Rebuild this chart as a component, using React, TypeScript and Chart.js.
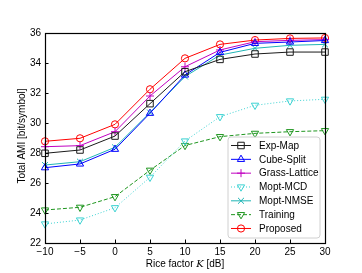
import React, { useEffect, useRef } from "react";
import { Chart, registerables } from "chart.js";

Chart.register(...registerables);

const riceFactor = [-10, -5, 0, 5, 10, 15, 20, 25, 30];
const expMap = [27.98, 28.2, 29.13, 31.29, 33.42, 34.24, 34.6, 34.73, 34.73];
const cubeSplit = [27.02, 27.27, 28.25, 30.65, 33.2, 34.71, 35.31, 35.4, 35.5];
const grassLattice = [28.42, 28.49, 29.42, 31.8, 33.75, 34.87, 35.42, 35.51, 35.56];
const moptMCD = [23.27, 23.53, 24.35, 26.38, 28.8, 30.42, 31.18, 31.47, 31.58];
const moptNMSE = [27.2, 27.42, 28.38, 30.7, 33.1, 34.53, 34.98, 35.18, 35.24];
const training = [24.2, 24.38, 25.09, 26.85, 28.5, 29.09, 29.31, 29.42, 29.49];
const proposed = [28.78, 28.98, 29.91, 32.25, 34.31, 35.24, 35.53, 35.64, 35.67];

const yTicks = [22, 24, 26, 28, 30, 32, 34, 36];
const xTicks = [-10, -5, 0, 5, 10, 15, 20, 25, 30];

const FONT = "'Liberation Sans', Arial, sans-serif";

function drawMarker(ctx: CanvasRenderingContext2D, style: string, rot: number, r: number, x: number, y: number) {
  ctx.beginPath();
  const rad = (rot * Math.PI) / 180;
  if (style === "circle") {
    ctx.arc(x, y, r, 0, Math.PI * 2);
    ctx.closePath();
  } else if (style === "rect") {
    const h = r * Math.SQRT1_2;
    ctx.rect(x - h, y - h, 2 * h, 2 * h);
  } else if (style === "triangle") {
    let a = rad;
    ctx.moveTo(x + Math.sin(a) * r, y - Math.cos(a) * r);
    a += (2 * Math.PI) / 3;
    ctx.lineTo(x + Math.sin(a) * r, y - Math.cos(a) * r);
    a += (2 * Math.PI) / 3;
    ctx.lineTo(x + Math.sin(a) * r, y - Math.cos(a) * r);
    ctx.closePath();
  } else if (style === "cross") {
    ctx.moveTo(x, y - r);
    ctx.lineTo(x, y + r);
    ctx.moveTo(x - r, y);
    ctx.lineTo(x + r, y);
  } else if (style === "crossRot") {
    const h = r * Math.SQRT1_2;
    ctx.moveTo(x - h, y - h);
    ctx.lineTo(x + h, y + h);
    ctx.moveTo(x - h, y + h);
    ctx.lineTo(x + h, y - h);
  }
  ctx.stroke();
}

const framePlugin = {
  id: "frame",
  afterDraw(chart: any) {
    const ctx = chart.ctx as CanvasRenderingContext2D;
    const { left, right, top, bottom } = chart.chartArea;
    const xs = chart.scales.x;
    const ys = chart.scales.y;
    ctx.save();
    ctx.strokeStyle = "#000";
    ctx.lineWidth = 1;
    ctx.beginPath();
    yTicks.forEach((v) => {
      const p = Math.round(ys.getPixelForValue(v)) + 0.5;
      ctx.moveTo(left, p);
      ctx.lineTo(left + 3.5, p);
    });
    xTicks.forEach((v) => {
      const p = Math.round(xs.getPixelForValue(v)) + 0.5;
      ctx.moveTo(p, bottom);
      ctx.lineTo(p, bottom - 3.5);
    });
    ctx.stroke();
    ctx.lineWidth = 1.2;
    ctx.strokeRect(Math.round(left) + 0.5, Math.round(top) + 0.5, Math.round(right - left), Math.round(bottom - top));

    ctx.fillStyle = "#000";
    ctx.textBaseline = "middle";
    const p1 = "Rice factor ";
    const p2 = "K";
    const p3 = " [dB]";
    ctx.font = `10px ${FONT}`;
    const w1 = ctx.measureText(p1).width;
    const w3 = ctx.measureText(p3).width;
    ctx.font = `italic 10px 'DejaVu Serif', serif`;
    const w2 = ctx.measureText(p2).width;
    const cx = (left + right) / 2;
    const sx = cx - (w1 + w2 + w3) / 2;
    const ty = 264;
    ctx.textAlign = "left";
    ctx.font = `10px ${FONT}`;
    ctx.fillText(p1, sx, ty);
    ctx.font = `italic 10px 'DejaVu Serif', serif`;
    ctx.fillText(p2, sx + w1, ty);
    ctx.font = `10px ${FONT}`;
    ctx.fillText(p3, sx + w1 + w2, ty);

    ctx.save();
    ctx.translate(22, (top + bottom) / 2 - 2);
    ctx.rotate(-Math.PI / 2);
    ctx.textAlign = "center";
    ctx.fillText("Total AMI [bit/symbol]", 0, 0);
    ctx.restore();

    const lw = 92;
    const lh = 101;
    const lx = right - 5 - lw;
    const ly = bottom - 5 - lh;
    ctx.beginPath();
    const rr = 3;
    ctx.moveTo(lx + rr, ly);
    ctx.arcTo(lx + lw, ly, lx + lw, ly + lh, rr);
    ctx.arcTo(lx + lw, ly + lh, lx, ly + lh, rr);
    ctx.arcTo(lx, ly + lh, lx, ly, rr);
    ctx.arcTo(lx, ly, lx + lw, ly, rr);
    ctx.closePath();
    ctx.fillStyle = "rgba(255,255,255,0.85)";
    ctx.fill();
    ctx.strokeStyle = "#d0d0d0";
    ctx.lineWidth = 1;
    ctx.stroke();

    chart.data.datasets.forEach((ds: any, i: number) => {
      const y = ly + 8.5 + i * 13.83;
      ctx.save();
      ctx.strokeStyle = ds.borderColor;
      ctx.lineWidth = ds.borderWidth;
      ctx.setLineDash(ds.borderDash || []);
      ctx.beginPath();
      ctx.moveTo(lx + 3, y);
      ctx.lineTo(lx + 23, y);
      ctx.stroke();
      ctx.setLineDash([]);
      ctx.lineWidth = ds.pointBorderWidth;
      drawMarker(ctx, ds.pointStyle, ds.pointRotation || 0, ds.pointRadius, lx + 13, y);
      ctx.restore();
      ctx.fillStyle = "#000";
      ctx.font = `10px ${FONT}`;
      ctx.textAlign = "left";
      ctx.textBaseline = "middle";
      ctx.fillText(ds.label, lx + 31, y + 0.5);
    });
    ctx.restore();
  },
};

function series(label: string, values: number[], color: string, style: string, radius: number, extra: any = {}) {
  return {
    label,
    data: riceFactor.map((x, i) => ({ x, y: values[i] })),
    borderColor: color,
    borderWidth: 1,
    pointStyle: style,
    pointRadius: radius,
    pointBorderColor: color,
    pointBackgroundColor: "rgba(0,0,0,0)",
    pointBorderWidth: 1,
    clip: false,
    tension: 0,
    ...extra,
  };
}

export default function App() {
  const ref = useRef<HTMLCanvasElement | null>(null);
  useEffect(() => {
    document.body.style.margin = "0";
    const canvas = ref.current!;
    const chart = new Chart(canvas, {
      type: "line",
      data: {
        datasets: [
          series("Exp-Map", expMap, "#1a1a1a", "rect", 4.6),
          series("Cube-Split", cubeSplit, "#0000ff", "triangle", 4.2),
          series("Grass-Lattice", grassLattice, "#c000c0", "cross", 4),
          series("Mopt-MCD", moptMCD, "#3cd2d2", "triangle", 4.2, { borderDash: [1, 2], pointRotation: 180 }),
          series("Mopt-NMSE", moptNMSE, "#1fb5b5", "crossRot", 4.2),
          series("Training", training, "#1f961f", "triangle", 4.2, { borderDash: [4, 2], pointRotation: 180 }),
          series("Proposed", proposed, "#ff0000", "circle", 3.6),
        ] as any,
      },
      options: {
        animation: false,
        responsive: false,
        maintainAspectRatio: false,
        layout: { padding: { left: 0, top: 33, right: 37, bottom: 0 } },
        plugins: { legend: { display: false }, tooltip: { enabled: false } },
        scales: {
          x: {
            type: "linear",
            min: -10,
            max: 30,
            afterFit: (s: any) => {
              s.height = 30;
            },
            afterBuildTicks: (s: any) => {
              s.ticks = xTicks.map((v) => ({ value: v }));
            },
            grid: { display: false, drawTicks: false },
            border: { display: false },
            ticks: {
              padding: 3,
              color: "#000",
              font: { size: 10, family: FONT },
              maxRotation: 0,
              callback: (v: any) => (v < 0 ? "\u2212" + Math.abs(v) : String(v)),
            },
          },
          y: {
            type: "linear",
            min: 22,
            max: 36,
            afterFit: (s: any) => {
              s.width = 45;
            },
            afterBuildTicks: (s: any) => {
              s.ticks = yTicks.map((v) => ({ value: v }));
            },
            grid: { display: false, drawTicks: false },
            border: { display: false },
            ticks: {
              padding: 4,
              color: "#000",
              font: { size: 10, family: FONT },
              callback: (v: any) => String(v),
            },
          },
        },
      },
      plugins: [framePlugin],
    });
    return () => chart.destroy();
  }, []);
  return (
    <div style={{ width: 362, height: 273 }}>
      <canvas ref={ref} width={362} height={273} style={{ width: 362, height: 273, display: "block" }} />
    </div>
  );
}
